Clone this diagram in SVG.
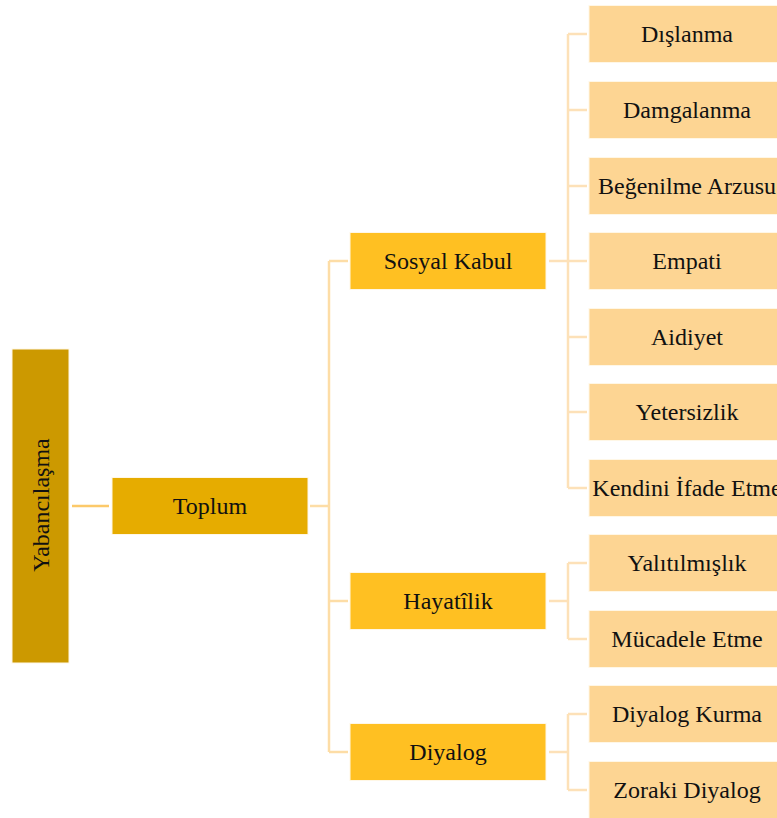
<svg xmlns="http://www.w3.org/2000/svg" width="777" height="818" viewBox="0 0 777 818">
<style>
text{font-family:"Liberation Serif","Times New Roman",serif;font-size:24px;fill:#111;text-anchor:middle}
.l0{fill:#CC9900}
.l1{fill:#E6AC00}
.l2{fill:#FFC022}
.l3{fill:#FDD593}
.n{stroke:#fff7e6;stroke-width:1}
.c{fill:none;stroke-width:2.5}
.c0{stroke:#FCC96A}
.c1{stroke:#FDDDA6}
.c2{stroke:#FDE1B8}
</style>
<rect width="777" height="818" fill="#fff"/>
<g id="connectors">
<path class="c c0" d="M72 506H109"/>
<path class="c c1" d="M310 506H329M329 261V752M329 261H348M329 601H348M329 752H348"/>
<path class="c c2" d="M549 261H568M568 34V488M568 34H587M568 110H587M568 186H587M568 261H587M568 337H587M568 412H587M568 488H587"/>
<path class="c c2" d="M549 601H568M568 563V639M568 563H587M568 639H587"/>
<path class="c c2" d="M549 752H568M568 714V790M568 714H587M568 790H587"/>
</g>
<g id="root"><rect class="n l0" x="12" y="349" width="57" height="314"/><text transform="translate(40,505) rotate(-90)" y="8.5">Yabancılaşma</text></g>
<g id="toplum"><rect class="n l1" x="112" y="477.5" width="196" height="57"/><text x="210" y="514">Toplum</text></g>
<g id="sosyal-kabul"><rect class="n l2" x="350" y="232.5" width="196" height="57"/><text x="448" y="269">Sosyal Kabul</text></g>
<g id="hayatilik"><rect class="n l2" x="350" y="572.5" width="196" height="57"/><text x="448" y="609">Hayatîlik</text></g>
<g id="diyalog"><rect class="n l2" x="350" y="723.5" width="196" height="57"/><text x="448" y="760">Diyalog</text></g>
<g id="leaf-1"><rect class="n l3" x="589" y="5.5" width="196" height="57"/><text x="687" y="42">Dışlanma</text></g>
<g id="leaf-2"><rect class="n l3" x="589" y="81.5" width="196" height="57"/><text x="687" y="118">Damgalanma</text></g>
<g id="leaf-3"><rect class="n l3" x="589" y="157.5" width="196" height="57"/><text x="687" y="194">Beğenilme Arzusu</text></g>
<g id="leaf-4"><rect class="n l3" x="589" y="232.5" width="196" height="57"/><text x="687" y="269">Empati</text></g>
<g id="leaf-5"><rect class="n l3" x="589" y="308.5" width="196" height="57"/><text x="687" y="345">Aidiyet</text></g>
<g id="leaf-6"><rect class="n l3" x="589" y="383.5" width="196" height="57"/><text x="687" y="420">Yetersizlik</text></g>
<g id="leaf-7"><rect class="n l3" x="589" y="459.5" width="196" height="57"/><text x="687" y="496">Kendini İfade Etme</text></g>
<g id="leaf-8"><rect class="n l3" x="589" y="534.5" width="196" height="57"/><text x="687" y="571">Yalıtılmışlık</text></g>
<g id="leaf-9"><rect class="n l3" x="589" y="610.5" width="196" height="57"/><text x="687" y="647">Mücadele Etme</text></g>
<g id="leaf-10"><rect class="n l3" x="589" y="685.5" width="196" height="57"/><text x="687" y="722">Diyalog Kurma</text></g>
<g id="leaf-11"><rect class="n l3" x="589" y="761.5" width="196" height="57"/><text x="687" y="798">Zoraki Diyalog</text></g>
</svg>
